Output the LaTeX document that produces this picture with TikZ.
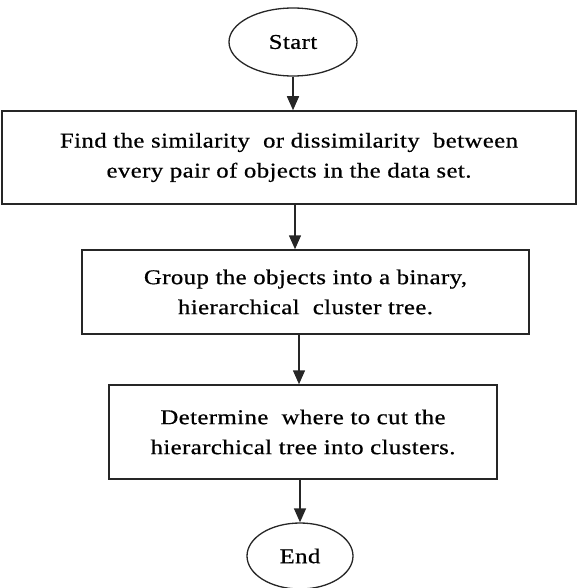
\documentclass[tikz,border=0pt]{standalone}
\usepackage{fontspec}
\setmainfont[FakeStretch=1.18,LetterSpace=2,FakeBold=0.6]{Liberation Serif}
\usetikzlibrary{arrows.meta,shapes.geometric}
\begin{document}
\begin{tikzpicture}[x=1pt,y=-1pt,
  every node/.style={font=\fontsize{21}{30}\selectfont, align=center, inner sep=0pt},
  procbox/.style={draw=black!85, line width=1.5pt, rectangle},
  term/.style={draw=black!85, line width=1.3pt, ellipse},
  flow/.style={draw=black!85, line width=1.5pt, -{Triangle[width=12pt,length=14pt]}}]
\useasboundingbox (0,0) rectangle (577,588);
\node[term, minimum width=128pt, minimum height=68pt] (start) at (293,42) {Start};
\node[procbox, minimum width=574pt, minimum height=93pt] (b1) at (289,157.5)
  {Find the similarity \ or dissimilarity \ between\\every pair of objects in the data set.};
\node[procbox, minimum width=447pt, minimum height=84pt] (b2) at (305.5,292)
  {Group the objects into a binary,\\hierarchical \ cluster tree.};
\node[procbox, minimum width=388pt, minimum height=94pt] (b3) at (303,432)
  {Determine \ where to cut the\\hierarchical tree into clusters.};
\node[term, minimum width=106pt, minimum height=66pt] (end) at (300,556) {End};
\draw[flow] (start.south) -- (start.south |- b1.north);
\draw[flow] ([xshift=6pt]b1.south) -- ([xshift=6pt]b1.south |- b2.north);
\draw[flow] ([xshift=-6.5pt]b2.south) -- ([xshift=-6.5pt]b2.south |- b3.north);
\draw[flow] ([xshift=-3pt]b3.south) -- ([xshift=-3pt]b3.south |- end.north);
\end{tikzpicture}
\end{document}
